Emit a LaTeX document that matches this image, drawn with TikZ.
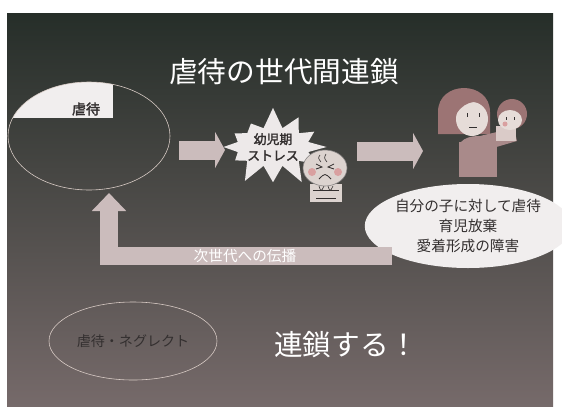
\documentclass[tikz,border=0pt]{standalone}
\usepackage{fontspec}
\setmainfont{Noto Sans CJK JP}[AutoFakeBold=2]
\usetikzlibrary{shapes,positioning,arrows.meta}
\definecolor{slidetop}{HTML}{262E29}
\definecolor{slidemid}{HTML}{403A3A}
\definecolor{slidebot}{HTML}{766A6A}
\definecolor{band}{HTML}{CBBCBC}
\definecolor{paper}{HTML}{F1EEEE}
\definecolor{ink}{HTML}{332F2F}
\definecolor{rim}{HTML}{D9CCC6}
\definecolor{hair}{HTML}{9C7474}
\definecolor{skin}{HTML}{E6DCD8}
\definecolor{sweater}{HTML}{A98A8A}
\definecolor{cheek}{HTML}{D9A0A0}
\tikzset{
  flowarrow/.style={draw=band, line width=5.7mm, -{Triangle[length=3mm,width=10.8mm]}},
  backarrow/.style={draw=band, line width=5.4mm, line join=miter, -{Triangle[length=5.4mm,width=10mm]}},
  oval/.style={ellipse, inner sep=0pt, align=center, text=ink},
  titletext/.style={text=white, font=\fontsize{24.5}{28}\selectfont},
}
\begin{document}
\begin{tikzpicture}[x=0.3mm,y=-0.3mm]
\useasboundingbox (0,0) rectangle (562,406);
% slide background
\fill[white] (0,0) rectangle (562,406);
\shade[top color=slidetop, middle color=slidemid, bottom color=slidebot] (7,13) rectangle (553,406.5);

\node[titletext] (title) at (284,72) {虐待の世代間連鎖};

% left cycle oval with its tab
\node[oval, minimum width=48.6mm, minimum height=32.4mm] (cycle) at (89,136) {};
\begin{scope}
  \clip (cycle.center) ellipse [x radius=24.3mm, y radius=16.2mm];
  \fill[paper] (0,70) rectangle (113,118);
\end{scope}
\draw[rim, line width=0.5pt] (cycle.center) ellipse [x radius=24.3mm, y radius=16.2mm];
\node[text=ink, font=\bfseries\fontsize{12}{14}\selectfont] (tab) at (86,109) {虐待};

% stress burst
\node[starburst, starburst points=12, starburst point height=6.5mm, random starburst=7,
      fill=paper!90!band, minimum width=27mm, minimum height=21.5mm, inner sep=0pt,
      align=center, text=ink, font=\bfseries\fontsize{11}{14}\selectfont] (burst) at (273,147) {幼児期\\ストレス};

% crying toddler
\fill[skin!90!gray] (310,184) rectangle (342,202);
\draw[ink, line width=0.6pt] (313,190) -- (339,190) (316,198) -- (336,198);
\draw[ink, line width=0.5pt] (319,186) .. controls (321,192) .. (324,186) (328,186) .. controls (330,192) .. (333,186);
\fill[skin!90!gray] (325,168) ellipse [x radius=22, y radius=18];
\draw[ink!60, line width=0.5pt] (325,168) ellipse [x radius=22, y radius=18];
\draw[ink, line width=0.5pt] (320,155) .. controls (318,158) .. (321,162) (326,154) .. controls (324,158) .. (327,162);
\fill[cheek] (312,172) circle (4) (338,172) circle (4);
\draw[ink, line width=0.7pt] (316,164) -- (322,167) -- (316,169) (334,164) -- (328,167) -- (334,169);
\draw[ink, line width=0.7pt] (319,179) .. controls (325,173) .. (331,179);

% mother holding a baby
\fill[hair] (438,112) .. controls (438,80) and (490,80) .. (490,112) -- (490,134) -- (438,134) -- cycle;
\fill[skin] (472,119) ellipse [x radius=16, y radius=17];
\fill[hair] (448,98) .. controls (462,86) and (478,88) .. (488,104) .. controls (474,99) and (462,102) .. (454,118) -- cycle;
\draw[ink, line width=0.7pt] (467,113) -- (467,117) (479,113) -- (479,117) (469,127) -- (477,127);
\fill[sweater] (459,142) rectangle (497,177);
\fill[sweater] (461,142) .. controls (468,134) and (488,134) .. (497,142) -- cycle;
\fill[sweater] (480,136) -- (514,128) -- (517,141) -- (486,150) -- cycle;
\fill[skin!80!sweater] (496,126) rectangle (516,141);
\fill[hair] (512,114) circle (15);
\fill[skin] (510,120) ellipse [x radius=12, y radius=10];
\fill[cheek] (505,124) circle (2.5);
\draw[ink, line width=0.6pt] (506,117) -- (506,120) (514,117) -- (514,120);

% outcome oval
\node[oval, fill=paper, minimum width=52.8mm, minimum height=25.2mm,
      font=\fontsize{12.5}{17}\selectfont] (result) at (468,226) {自分の子に対して虐待\\育児放棄\\愛着形成の障害};

% flow arrows
\coordinate (a1s) at (179,150);
\coordinate (a1e) at (225,150);
\coordinate (a2s) at (357,151);
\coordinate (a2e) at (423,151);
\draw[flowarrow] (a1s) -- (a1e);
\draw[flowarrow] (a2s) -- (a2e);

% return to next generation
\coordinate (bs) at (392,256);
\coordinate (bc) at (109,256);
\coordinate (be) at (109,193);
\draw[backarrow] (bs) -- (bc) -- (be);
\node[text=white, font=\fontsize{12.5}{14}\selectfont] (pass) at (245,256) {次世代への伝播};

% bottom line
\node[oval, draw=rim, line width=0.5pt, minimum width=50.4mm, minimum height=23.4mm,
      font=\fontsize{12}{14}\selectfont] (neglect) at (133,341) {虐待・ネグレクト};
\node[titletext] (chain) at (346,345) {連鎖する！};
\end{tikzpicture}
\end{document}
